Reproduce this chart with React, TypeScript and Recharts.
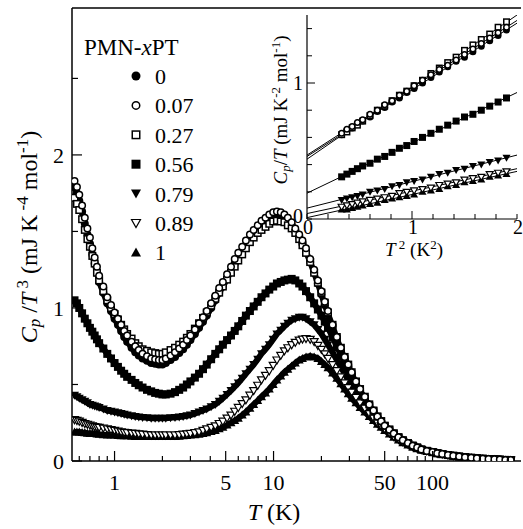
import React from 'react';
import { ScatterChart, Scatter, XAxis, YAxis, ReferenceLine } from 'recharts';

// main panel: T (K) and Cp/T^3 (mJ K^-4 mol^-1), low-T part per series
const tempsLow = [
  0.56, 0.58, 0.6, 0.625, 0.65, 0.675, 0.7, 0.725, 0.75, 0.775,
  0.8, 0.85, 0.9, 0.95, 1.0, 1.05, 1.1, 1.15, 1.2, 1.28,
  1.35, 1.42, 1.5, 1.6, 1.7, 1.8, 1.9, 2.0, 2.1, 2.25,
  2.4, 2.55, 2.7, 2.85, 3.0, 3.2, 3.4, 3.6, 3.8, 4.05,
  4.3, 4.55, 4.8, 5.1, 5.4, 5.7, 6.0, 6.35, 6.7, 7.1,
  7.5, 7.95, 8.4, 8.9, 9.4, 9.95, 10.5, 11.1, 11.7, 12.3,
  13, 13.7, 14.5, 15.2, 16, 17, 18, 19, 20, 21,
  22, 23.5, 25, 26.5, 28, 29.5, 31, 33, 35, 37.5,
  40, 42.5, 45, 47.5, 50, 53.5, 57, 61, 65, 70,
  75, 80,
];
// above ~80 K all compositions fall on one curve
const tempsHigh = [85, 92, 100, 107, 115, 125, 135, 147, 160, 175, 190, 207, 225, 245, 265, 287, 310];
const tailVals = [0.075, 0.066, 0.058, 0.051, 0.045, 0.039, 0.034, 0.029, 0.025, 0.021, 0.018, 0.015, 0.013, 0.011, 0.009, 0.007, 0.006];

const pmn0 = [
  1.79, 1.75, 1.70, 1.63, 1.55, 1.48, 1.42, 1.35, 1.29, 1.23,
  1.17, 1.10, 1.03, 0.98, 0.93, 0.89, 0.85, 0.81, 0.78, 0.74,
  0.71, 0.69, 0.67, 0.655, 0.64, 0.635, 0.63, 0.63, 0.64, 0.66,
  0.68, 0.705, 0.73, 0.76, 0.79, 0.83, 0.87, 0.91, 0.95, 1.00,
  1.05, 1.10, 1.14, 1.19, 1.24, 1.29, 1.33, 1.37, 1.41, 1.45,
  1.49, 1.52, 1.55, 1.57, 1.59, 1.605, 1.61, 1.605, 1.59, 1.57,
  1.54, 1.50, 1.46, 1.42, 1.37, 1.30, 1.23, 1.16, 1.09, 1.02,
  0.96, 0.88, 0.80, 0.73, 0.67, 0.62, 0.57, 0.51, 0.46, 0.41,
  0.36, 0.32, 0.28, 0.255, 0.23, 0.20, 0.17, 0.15, 0.13, 0.115,
  0.10, 0.087,
];
const pmn007 = [
  1.83, 1.79, 1.74, 1.67, 1.59, 1.52, 1.46, 1.39, 1.33, 1.27,
  1.21, 1.14, 1.07, 1.02, 0.97, 0.93, 0.89, 0.85, 0.82, 0.78,
  0.75, 0.725, 0.70, 0.685, 0.67, 0.665, 0.66, 0.66, 0.67, 0.69,
  0.71, 0.735, 0.76, 0.79, 0.82, 0.86, 0.90, 0.94, 0.98, 1.03,
  1.08, 1.13, 1.17, 1.22, 1.27, 1.32, 1.36, 1.40, 1.44, 1.48,
  1.51, 1.54, 1.57, 1.59, 1.61, 1.625, 1.63, 1.625, 1.61, 1.59,
  1.56, 1.52, 1.48, 1.44, 1.39, 1.32, 1.25, 1.18, 1.11, 1.04,
  0.98, 0.89, 0.81, 0.74, 0.68, 0.63, 0.58, 0.52, 0.47, 0.42,
  0.37, 0.33, 0.29, 0.26, 0.23, 0.205, 0.18, 0.155, 0.135, 0.117,
  0.10, 0.088,
];
const pmn027 = [
  1.72, 1.68, 1.64, 1.58, 1.51, 1.45, 1.40, 1.34, 1.29, 1.23,
  1.18, 1.11, 1.05, 1.00, 0.96, 0.925, 0.89, 0.86, 0.83, 0.80,
  0.77, 0.75, 0.73, 0.72, 0.71, 0.705, 0.70, 0.70, 0.71, 0.725,
  0.74, 0.76, 0.78, 0.805, 0.83, 0.865, 0.90, 0.935, 0.97, 1.015,
  1.06, 1.10, 1.14, 1.185, 1.23, 1.27, 1.31, 1.35, 1.39, 1.43,
  1.46, 1.49, 1.51, 1.53, 1.55, 1.565, 1.57, 1.565, 1.56, 1.54,
  1.52, 1.49, 1.45, 1.41, 1.36, 1.30, 1.23, 1.165, 1.10, 1.035,
  0.97, 0.89, 0.81, 0.74, 0.68, 0.63, 0.58, 0.52, 0.47, 0.42,
  0.37, 0.33, 0.29, 0.26, 0.23, 0.205, 0.18, 0.155, 0.135, 0.117,
  0.10, 0.088,
];
const pmn056 = [
  1.05, 1.03, 1.00, 0.965, 0.93, 0.90, 0.87, 0.845, 0.82, 0.795,
  0.77, 0.735, 0.70, 0.67, 0.64, 0.615, 0.59, 0.57, 0.55, 0.53,
  0.51, 0.495, 0.48, 0.465, 0.455, 0.445, 0.44, 0.435, 0.435, 0.44,
  0.45, 0.465, 0.48, 0.50, 0.52, 0.545, 0.57, 0.60, 0.63, 0.665,
  0.70, 0.73, 0.76, 0.79, 0.82, 0.85, 0.88, 0.915, 0.95, 0.98,
  1.01, 1.04, 1.07, 1.095, 1.12, 1.14, 1.16, 1.17, 1.18, 1.185,
  1.19, 1.18, 1.16, 1.14, 1.11, 1.07, 1.03, 0.99, 0.95, 0.91,
  0.87, 0.81, 0.75, 0.695, 0.64, 0.595, 0.55, 0.50, 0.45, 0.405,
  0.36, 0.325, 0.29, 0.26, 0.23, 0.205, 0.18, 0.155, 0.135, 0.117,
  0.10, 0.088,
];
const pmn079 = [
  0.43, 0.42, 0.41, 0.40, 0.39, 0.38, 0.37, 0.365, 0.36, 0.355,
  0.35, 0.34, 0.33, 0.325, 0.32, 0.315, 0.31, 0.305, 0.30, 0.295,
  0.29, 0.288, 0.285, 0.282, 0.28, 0.28, 0.28, 0.28, 0.28, 0.282,
  0.285, 0.287, 0.29, 0.295, 0.30, 0.31, 0.32, 0.33, 0.34, 0.355,
  0.37, 0.39, 0.41, 0.435, 0.46, 0.485, 0.51, 0.54, 0.57, 0.60,
  0.63, 0.665, 0.70, 0.73, 0.76, 0.795, 0.83, 0.855, 0.88, 0.90,
  0.92, 0.93, 0.94, 0.94, 0.93, 0.91, 0.89, 0.86, 0.83, 0.795,
  0.76, 0.71, 0.66, 0.615, 0.57, 0.53, 0.49, 0.45, 0.41, 0.37,
  0.33, 0.30, 0.27, 0.245, 0.22, 0.195, 0.17, 0.15, 0.13, 0.115,
  0.10, 0.087,
];
const pmn089 = [
  0.27, 0.265, 0.26, 0.252, 0.245, 0.24, 0.235, 0.23, 0.225, 0.222,
  0.22, 0.215, 0.21, 0.205, 0.20, 0.195, 0.19, 0.187, 0.185, 0.182,
  0.18, 0.177, 0.175, 0.172, 0.17, 0.17, 0.17, 0.17, 0.17, 0.17,
  0.17, 0.172, 0.175, 0.177, 0.18, 0.185, 0.19, 0.20, 0.21, 0.22,
  0.23, 0.245, 0.26, 0.28, 0.30, 0.325, 0.35, 0.375, 0.40, 0.43,
  0.46, 0.495, 0.53, 0.56, 0.59, 0.625, 0.66, 0.69, 0.72, 0.74,
  0.76, 0.775, 0.79, 0.797, 0.80, 0.795, 0.78, 0.755, 0.73, 0.70,
  0.67, 0.63, 0.59, 0.55, 0.51, 0.48, 0.45, 0.415, 0.38, 0.345,
  0.31, 0.28, 0.25, 0.23, 0.21, 0.185, 0.16, 0.142, 0.125, 0.11,
  0.095, 0.083,
];
const pmn1 = [
  0.19, 0.19, 0.19, 0.187, 0.185, 0.182, 0.18, 0.18, 0.18, 0.177,
  0.175, 0.172, 0.17, 0.17, 0.17, 0.167, 0.165, 0.165, 0.165, 0.162,
  0.16, 0.16, 0.16, 0.16, 0.16, 0.16, 0.16, 0.16, 0.16, 0.16,
  0.16, 0.162, 0.165, 0.167, 0.17, 0.172, 0.175, 0.18, 0.185, 0.192,
  0.20, 0.21, 0.22, 0.235, 0.25, 0.265, 0.28, 0.30, 0.32, 0.345,
  0.37, 0.395, 0.42, 0.445, 0.47, 0.50, 0.53, 0.555, 0.58, 0.60,
  0.62, 0.64, 0.66, 0.67, 0.68, 0.685, 0.68, 0.67, 0.65, 0.63,
  0.61, 0.575, 0.54, 0.505, 0.47, 0.44, 0.41, 0.38, 0.35, 0.32,
  0.29, 0.265, 0.24, 0.22, 0.20, 0.177, 0.155, 0.137, 0.12, 0.105,
  0.09, 0.08,
];

// inset: T^2 (K^2) and Cp/T (mJ K^-2 mol^-1)
const tSq = [0.33, 0.38, 0.43, 0.48, 0.53, 0.6, 0.67, 0.74, 0.81, 0.88, 0.95, 1.02, 1.1, 1.18, 1.26, 1.34, 1.42, 1.5, 1.58, 1.66, 1.74, 1.82, 1.9];
const in0 = [0.62, 0.65, 0.67, 0.70, 0.72, 0.75, 0.79, 0.82, 0.86, 0.89, 0.93, 0.96, 1.00, 1.04, 1.08, 1.12, 1.16, 1.19, 1.23, 1.27, 1.31, 1.35, 1.39];
const in007 = [0.63, 0.66, 0.68, 0.71, 0.73, 0.77, 0.80, 0.84, 0.87, 0.91, 0.94, 0.98, 1.02, 1.06, 1.10, 1.13, 1.17, 1.21, 1.25, 1.29, 1.33, 1.37, 1.41];
const in027 = [0.62, 0.64, 0.67, 0.69, 0.72, 0.76, 0.80, 0.83, 0.87, 0.91, 0.94, 0.98, 1.02, 1.07, 1.11, 1.15, 1.19, 1.24, 1.28, 1.32, 1.36, 1.41, 1.45];
const in056 = [0.31, 0.33, 0.35, 0.37, 0.39, 0.41, 0.44, 0.46, 0.49, 0.52, 0.54, 0.57, 0.60, 0.63, 0.66, 0.69, 0.72, 0.75, 0.77, 0.80, 0.83, 0.86, 0.89];
const in079 = [0.14, 0.15, 0.16, 0.17, 0.18, 0.20, 0.21, 0.22, 0.24, 0.25, 0.27, 0.28, 0.29, 0.31, 0.33, 0.34, 0.36, 0.37, 0.39, 0.40, 0.42, 0.43, 0.45];
const in089 = [0.09, 0.10, 0.11, 0.12, 0.13, 0.14, 0.15, 0.16, 0.17, 0.19, 0.20, 0.21, 0.22, 0.23, 0.25, 0.26, 0.27, 0.29, 0.30, 0.31, 0.33, 0.34, 0.35];
const in1 = [0.07, 0.07, 0.08, 0.09, 0.10, 0.11, 0.12, 0.14, 0.15, 0.16, 0.17, 0.18, 0.20, 0.21, 0.22, 0.24, 0.25, 0.27, 0.28, 0.29, 0.31, 0.32, 0.33];
// fit lines, value at T^2 = 0 and T^2 = 2
const fitStart = [0.46, 0.47, 0.44, 0.19, 0.08, 0.04, 0.01];
const fitEnd = [1.44, 1.46, 1.50, 0.93, 0.47, 0.37, 0.35];

const xMajor = [1, 5, 10, 50, 100];
const xMinor = [0.6, 0.7, 0.8, 0.9, 2, 3, 4, 6, 7, 8, 9, 20, 30, 40, 60, 70, 80, 90, 200, 300];
const yTicks = [0, 0.5, 1, 1.5, 2, 2.5];
const yLabels = [0, 1, 2];
const inXTicks = [0, 0.2, 0.4, 0.6, 0.8, 1, 1.2, 1.4, 1.6, 1.8, 2];
const inYTicks = [0, 0.2, 0.4, 0.6, 0.8, 1, 1.2, 1.4];
const inLabels = [0, 1, 2];

const labels = ['0', '0.07', '0.27', '0.56', '0.79', '0.89', '1'];
type Kind = 'dot' | 'ring' | 'box' | 'sq' | 'down' | 'downOpen' | 'up';
const kinds: Kind[] = ['dot', 'ring', 'box', 'sq', 'down', 'downOpen', 'up'];
const mainVals = [pmn0, pmn007, pmn027, pmn056, pmn079, pmn089, pmn1];
const insetVals = [in0, in007, in027, in056, in079, in089, in1];
// filled ones first, open ones on top
const drawOrder = [6, 4, 3, 0, 5, 2, 1];

const temps = [...tempsLow, ...tempsHigh];
const serif = '"Liberation Serif", "Times New Roman", serif';

function Mark({ kind, x, y, s }: { kind: Kind; x: number; y: number; s: number }) {
  const h = s / 2;
  const open = { fill: '#fff', stroke: '#000', strokeWidth: 1.5 };
  switch (kind) {
    case 'dot':
      return <circle cx={x} cy={y} r={h} fill="#000" />;
    case 'ring':
      return <circle cx={x} cy={y} r={h - 0.75} {...open} />;
    case 'box':
      return <rect x={x - h + 0.75} y={y - h + 0.75} width={s - 1.5} height={s - 1.5} {...open} />;
    case 'sq':
      return <rect x={x - h} y={y - h} width={s} height={s} fill="#000" />;
    case 'down':
      return <polygon points={`${x - h - 0.5},${y - h + 0.5} ${x + h + 0.5},${y - h + 0.5} ${x},${y + h + 0.5}`} fill="#000" />;
    case 'downOpen':
      return <polygon points={`${x - h},${y - h + 1} ${x + h},${y - h + 1} ${x},${y + h}`} {...open} strokeWidth={1.2} />;
    default:
      return <polygon points={`${x - h - 0.5},${y + h - 0.5} ${x + h + 0.5},${y + h - 0.5} ${x},${y - h - 0.5}`} fill="#000" />;
  }
}

const XTick = (p: any) => {
  const v = p.payload.value;
  const major = xMajor.includes(v);
  return (
    <g>
      <line x1={p.x} x2={p.x} y1={p.y} y2={p.y - (major ? 10 : 5)} stroke="#000" strokeWidth={1.2} />
      {major && <text x={p.x} y={p.y + 29} textAnchor="middle" fontSize={22} fontFamily={serif} fill="#000">{v}</text>}
    </g>
  );
};

const YTick = (p: any) => {
  const v = p.payload.value;
  const major = yLabels.includes(v);
  return (
    <g>
      <line x1={p.x} x2={p.x + (major ? 10 : 6)} y1={p.y} y2={p.y} stroke="#000" strokeWidth={1.2} />
      {major && <text x={p.x - 8} y={p.y + 8} textAnchor="end" fontSize={22} fontFamily={serif} fill="#000">{v}</text>}
    </g>
  );
};

const InXTick = (p: any) => {
  const v = p.payload.value;
  const major = v === 1;
  return (
    <g>
      <line x1={p.x} x2={p.x} y1={p.y} y2={p.y - (major ? 8 : 5)} stroke="#000" strokeWidth={1} />
      {inLabels.includes(v) && <text x={p.x + 1} y={p.y + 15} textAnchor="middle" fontSize={20} fontFamily={serif} fill="#000">{v}</text>}
    </g>
  );
};
const InTopTick = (p: any) => {
  const major = p.payload.value === 1;
  return <line x1={p.x} x2={p.x} y1={p.y} y2={p.y + (major ? 8 : 5)} stroke="#000" strokeWidth={1} />;
};
const InYTick = (p: any) => {
  const v = p.payload.value;
  const major = v === 1;
  return (
    <g>
      <line x1={p.x} x2={p.x + (major ? 8 : 5)} y1={p.y} y2={p.y} stroke="#000" strokeWidth={1} />
      {(v === 0 || v === 1) && <text x={p.x - 4} y={p.y + (v === 0 ? 4 : 7)} textAnchor="end" fontSize={20} fontFamily={serif} fill="#000">{v}</text>}
    </g>
  );
};
const InRightTick = (p: any) => {
  const major = p.payload.value === 1;
  return <line x1={p.x} x2={p.x - (major ? 8 : 5)} y1={p.y} y2={p.y} stroke="#000" strokeWidth={1} />;
};

const sub = (t: string, fs: number) => <tspan fontSize={fs} baselineShift="-20%" fontStyle="italic">{t}</tspan>;
const sup = (t: string, fs: number) => <tspan fontSize={fs} baselineShift="super">{t}</tspan>;

export default function App() {
  const axisLine = { stroke: '#000', strokeWidth: 1.5 };
  return (
    <div style={{ position: 'absolute', left: 0, top: 0, width: 523, height: 529, background: '#fff', fontFamily: serif }}>
      <ScatterChart width={523} height={529} margin={{ top: 8, right: 2, left: 0, bottom: 0 }}>
        <XAxis type="number" dataKey="T" scale="log" domain={[0.54, 360]} allowDataOverflow
          ticks={[...xMajor, ...xMinor]} interval={0} tickSize={0} tickMargin={0} tickLine={false}
          tick={<XTick />} height={68} axisLine={axisLine} />
        <YAxis type="number" dataKey="v" domain={[0, 2.96]} allowDataOverflow ticks={yTicks} interval={0}
          tickSize={0} tickMargin={0} tickLine={false} tick={<YTick />} width={72} axisLine={axisLine} />
        <ReferenceLine y={2.96} stroke="#000" strokeWidth={1.5} ifOverflow="visible" />
        {drawOrder.map((i) => {
          const k = kinds[i];
          const filled = k === 'dot' || k === 'sq' || k === 'down' || k === 'up';
          const vals = [...mainVals[i], ...tailVals];
          return (
            <Scatter key={labels[i]} name={labels[i]} data={temps.map((T, j) => ({ T, v: vals[j] }))}
              isAnimationActive={false}
              line={filled ? { stroke: '#000', strokeWidth: 6 } : false}
              shape={(p: any) => <Mark kind={k} x={p.cx} y={p.cy} s={8} />} />
          );
        })}
      </ScatterChart>

      <div style={{ position: 'absolute', left: 250, top: 0 }}>
        <ScatterChart width={273} height={265} margin={{ top: 15, right: 6, left: 0, bottom: 0 }}>
          <XAxis type="number" dataKey="x" domain={[0, 2]} allowDataOverflow ticks={inXTicks} interval={0}
            tickSize={0} tickMargin={0} tickLine={false} tick={<InXTick />} height={46} axisLine={{ stroke: '#000', strokeWidth: 1.2 }} />
          <XAxis xAxisId="top" orientation="top" type="number" domain={[0, 2]} ticks={inXTicks} interval={0}
            tickSize={0} tickMargin={0} tickLine={false} tick={<InTopTick />} height={0} axisLine={{ stroke: '#000', strokeWidth: 1.2 }} />
          <YAxis type="number" dataKey="y" domain={[0, 1.5]} allowDataOverflow ticks={inYTicks} interval={0}
            tickSize={0} tickMargin={0} tickLine={false} tick={<InYTick />} width={57} axisLine={{ stroke: '#000', strokeWidth: 1.2 }} />
          <YAxis yAxisId="right" orientation="right" type="number" domain={[0, 1.5]} ticks={inYTicks} interval={0}
            tickSize={0} tickMargin={0} tickLine={false} tick={<InRightTick />} width={0} axisLine={{ stroke: '#000', strokeWidth: 1.2 }} />
          {fitStart.map((a, i) => (
            <Scatter key={'fit' + i} data={[{ x: 0, y: a }, { x: 2, y: fitEnd[i] }]} isAnimationActive={false}
              line={{ stroke: '#000', strokeWidth: 1 }} shape={() => <g />} />
          ))}
          {drawOrder.map((i) => (
            <Scatter key={'in' + labels[i]} data={tSq.map((x, j) => ({ x, y: insetVals[i][j] }))} isAnimationActive={false}
              shape={(p: any) => <Mark kind={kinds[i]} x={p.cx} y={p.cy} s={7} />} />
          ))}
        </ScatterChart>
      </div>

      <svg width={523} height={529} style={{ position: 'absolute', left: 0, top: 0, pointerEvents: 'none' }} fontFamily={serif} fill="#000">
        <text transform="translate(37,237) rotate(-90)" textAnchor="middle" fontSize={24}>
          <tspan fontStyle="italic">C</tspan>{sub('p', 17)}<tspan>{'\u00a0/'}</tspan><tspan fontStyle="italic">T</tspan>
          {sup('\u00a03', 17)}<tspan>{'\u00a0(mJ K'}</tspan>{sup('\u00a0-4', 17)}<tspan>{'\u00a0mol'}</tspan>{sup('-1', 17)}<tspan>)</tspan>
        </text>
        <text x={274} y={520} textAnchor="middle" fontSize={24}>
          <tspan fontStyle="italic">T</tspan><tspan>{'\u00a0(K)'}</tspan>
        </text>

        <text x={84} y={55} fontSize={23}>
          <tspan>PMN-</tspan><tspan fontStyle="italic">x</tspan><tspan>PT</tspan>
        </text>
        {labels.map((l, i) => (
          <g key={l}>
            <Mark kind={kinds[i]} x={136} y={76 + 29.4 * i} s={9} />
            <text x={155} y={84 + 29.4 * i} fontSize={22}>{l}</text>
          </g>
        ))}

        <text transform="translate(287,110) rotate(-90)" textAnchor="middle" fontSize={19}>
          <tspan fontStyle="italic">C</tspan>{sub('p', 13)}<tspan>/</tspan><tspan fontStyle="italic">T</tspan>
          <tspan>{'\u00a0(mJ K'}</tspan>{sup('-2', 13)}<tspan>{'\u00a0mol'}</tspan>{sup('-1', 13)}<tspan>)</tspan>
        </text>
        <text x={414} y={256} textAnchor="middle" fontSize={19}>
          <tspan fontStyle="italic">T</tspan>{sup('\u00a02', 13)}<tspan>{'\u00a0(K'}</tspan>{sup('2', 13)}<tspan>)</tspan>
        </text>
      </svg>
    </div>
  );
}
